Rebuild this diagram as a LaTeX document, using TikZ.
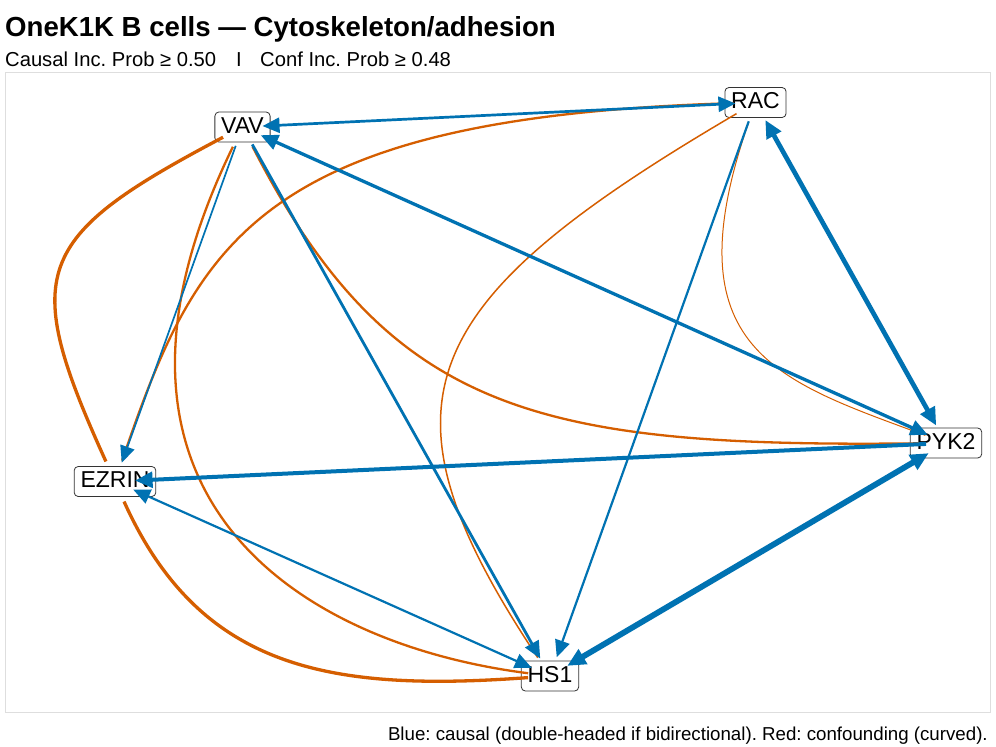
\documentclass[tikz,border=0pt]{standalone}
\usepackage{fontspec}
\setmainfont{Liberation Sans}
\usetikzlibrary{arrows.meta}
\definecolor{cblue}{RGB}{0,114,178}
\definecolor{corange}{RGB}{213,94,0}
\begin{document}
\frenchspacing
\begin{tikzpicture}[x=1pt,y=-1pt,
  nd/.style={draw=black!80, line width=0.8pt, rounded corners=4pt, fill=white,
    font=\fontsize{23}{23}\selectfont, inner xsep=6.3pt, inner ysep=4pt,
    text height=17pt, text depth=5pt},
  cz/.style={draw=cblue, line width=#1, shorten >=20pt, shorten <=20pt},
  cf/.style={draw=corange, line width=#1, shorten >=22pt, shorten <=22pt},
  txt/.style={inner sep=0pt},
  >={Triangle[length=16pt 0.4, width=14pt 0.4]}
]
\useasboundingbox (0,0) rectangle (996,747);
\fill[white] (0,0) rectangle (996,747);
\draw[draw=black!13, line width=1pt] (5,72) rectangle (990,712);

\node[txt, anchor=base west, font=\fontsize{27.6}{30}\selectfont\bfseries] (title) at (5,36) {OneK1K B cells — Cytoskeleton/adhesion};
\node[txt, anchor=base west, font=\fontsize{20.2}{22}\selectfont] (sub) at (5,66.5) {Causal Inc. Prob ≥ 0.50\hspace{20pt}I\hspace{18.5pt}Conf Inc. Prob ≥ 0.48};
\node[txt, anchor=base east, font=\fontsize{18.7}{20}\selectfont] (cap) at (988,740) {Blue: causal (double-headed if bidirectional). Red: confounding (curved).};

\node[nd] (vav) at (242.5,127) {VAV};
\node[nd] (rac) at (755.5,102.5) {RAC};
\node[nd] (pyk) at (946,443) {PYK2};
\node[nd] (ezr) at (115,481.5) {EZRIN};
\node[nd] (hs) at (550,676) {HS1};

% confounding (curved)
\draw[cf=3.3pt] (vav.center) .. controls (32,238) and (20,272) .. (ezr.center);
\draw[cf=3.3pt] (ezr.center) .. controls (200,670) and (330,692) .. (hs.center);
\draw[cf=2.3pt] (vav.center) .. controls (62,498) and (302,644.5) .. (hs.center);
\draw[cf=2.3pt] (vav.center) .. controls (390,415) and (540,448) .. (pyk.center);
\draw[cf=1.5pt] (rac.center) .. controls (412,304) and (368,402.4) .. (hs.center);
\draw[cf=2.3pt] (rac.center) .. controls (255,117) and (196,244.5) .. (ezr.center);
\draw[cf=1pt] (rac.center) .. controls (670,350) and (777.2,380.7) .. (pyk.center);

% causal
\draw[cz=2.7pt, <->] (vav.center) -- (rac.center);
\draw[cz=1.7pt, ->] (vav.center) -- (ezr.center);
\draw[cz=2.8pt, ->] (vav.center) -- (hs.center);
\draw[cz=3.3pt, <->] (vav.center) -- (pyk.center);
\draw[cz=4.7pt, <->] (rac.center) -- (pyk.center);
\draw[cz=2.2pt, ->] (rac.center) -- (hs.center);
\draw[cz=4pt, ->] (pyk.center) -- (ezr.center);
\draw[cz=2.2pt, <->] (ezr.center) -- (hs.center);
\draw[cz=5.8pt, <->] (hs.center) -- (pyk.center);
\end{tikzpicture}
\end{document}
